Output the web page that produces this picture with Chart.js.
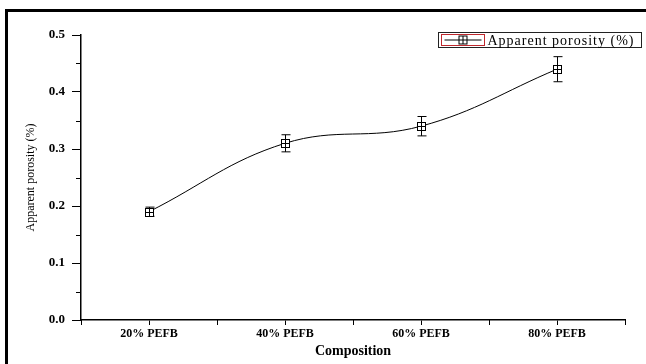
<!DOCTYPE html>
<html>
<head>
<meta charset="utf-8">
<script src="https://cdn.jsdelivr.net/npm/chart.js@4.4.0/dist/chart.umd.min.js"></script>
<style>
    html, body { margin: 0; padding: 0; background: #fff; }
    #wrap { position: relative; width: 646px; height: 364px; }
</style>
</head>
<body>
<div id="wrap"><canvas id="grafico-porosidad" width="646" height="364"></canvas></div>
<script>
// Chart data
const labels = ['20% PEFB', '40% PEFB', '60% PEFB', '80% PEFB'];
const porosity = [0.19, 0.31, 0.34, 0.44];
const porosityError = [0.008, 0.015, 0.017, 0.022];
const yTicks = [0, 0.1, 0.2, 0.3, 0.4, 0.5];
const yMinorTicks = [0.05, 0.15, 0.25, 0.35, 0.45];

const serif = '"Liberation Serif", "DejaVu Serif", serif';

// square with a cross, like the Origin marker
function makeMarker(size) {
    var c = document.createElement('canvas');
    c.width = size; c.height = size;
    var g = c.getContext('2d');
    g.fillStyle = '#fff';
    g.fillRect(1, 1, size - 2, size - 2);
    g.strokeStyle = '#000';
    g.lineWidth = 1;
    g.strokeRect(1.5, 1.5, size - 3, size - 3);
    g.beginPath();
    g.moveTo(1.5, size / 2); g.lineTo(size - 1.5, size / 2);
    g.moveTo(size / 2, 1.5); g.lineTo(size / 2, size - 1.5);
    g.stroke();
    return c;
}
var marker = makeMarker(11);

// white page, black frame top + left
const framePlugin = {
    id: 'frame',
    beforeDraw(chart) {
        var ctx = chart.ctx;
        ctx.save();
        ctx.fillStyle = '#fff';
        ctx.fillRect(0, 0, chart.width, chart.height);
        ctx.fillStyle = '#000';
        ctx.fillRect(5, 9, chart.width - 5, 3);
        ctx.fillRect(5, 9, 3, chart.height - 9);
        ctx.restore();
    }
};

// error bars
const errorBarPlugin = {
    id: 'errorBars',
    afterDatasetsDraw(chart) {
        var ctx = chart.ctx;
        var y = chart.scales.y;
        var meta = chart.getDatasetMeta(0);
        ctx.save();
        ctx.strokeStyle = '#000';
        ctx.lineWidth = 1;
        meta.data.forEach(function(pt, i) {
            var x = Math.round(pt.x) + 0.5;
            var top = y.getPixelForValue(porosity[i] + porosityError[i]);
            var bot = y.getPixelForValue(porosity[i] - porosityError[i]);
            ctx.beginPath();
            ctx.moveTo(x, top); ctx.lineTo(x, bot);
            ctx.moveTo(x - 4, top); ctx.lineTo(x + 5, top);
            ctx.moveTo(x - 4, bot); ctx.lineTo(x + 5, bot);
            ctx.stroke();
            ctx.drawImage(marker, Math.round(pt.x) - 5, Math.round(pt.y) - 5);
        });
        ctx.restore();
    }
};

// minor ticks + category boundary ticks
const minorTickPlugin = {
    id: 'minorTicks',
    afterDraw(chart) {
        var ctx = chart.ctx;
        var xs = chart.scales.x, ys = chart.scales.y;
        var area = chart.chartArea;
        ctx.save();
        ctx.strokeStyle = '#000';
        ctx.lineWidth = 1;
        ctx.beginPath();
        yMinorTicks.forEach(function(v) {
            var py = Math.round(ys.getPixelForValue(v)) + 0.5;
            ctx.moveTo(area.left - 5, py); ctx.lineTo(area.left, py);
        });
        for (var i = 0; i <= labels.length; i++) {
            var px = Math.round(xs.getPixelForValue(i - 0.5)) + 0.5;
            ctx.moveTo(px, area.bottom); ctx.lineTo(px, area.bottom + 5);
        }
        ctx.stroke();
        ctx.restore();
    }
};

// boxed legend top right
const legendPlugin = {
    id: 'boxLegend',
    afterDraw(chart) {
        var ctx = chart.ctx;
        var bx = 438.5, by = 32.5, bw = 203, bh = 15;
        ctx.save();
        ctx.fillStyle = '#fff';
        ctx.fillRect(bx, by, bw, bh);
        ctx.strokeStyle = '#222';
        ctx.lineWidth = 1;
        ctx.strokeRect(bx, by, bw, bh);
        ctx.strokeStyle = '#c0282d';
        ctx.strokeRect(bx + 3, by + 2, 43, bh - 4);
        ctx.strokeStyle = '#000';
        ctx.beginPath();
        ctx.moveTo(bx + 6, by + 7.5); ctx.lineTo(bx + 43, by + 7.5);
        ctx.stroke();
        ctx.drawImage(marker, bx + 19, by + 2);
        ctx.fillStyle = '#000';
        ctx.font = '14px ' + serif;
        ctx.letterSpacing = '1px';
        ctx.textBaseline = 'middle';
        ctx.fillText(chart.data.datasets[0].label, bx + 49, by + bh / 2 + 1);
        ctx.restore();
    }
};

const data = {
    labels: labels,
    datasets: [{
        label: 'Apparent porosity (%)',
        data: porosity,
        borderColor: '#000',
        borderWidth: 1,
        tension: 0.4,
        pointRadius: 0,
        fill: false
    }]
};

const config = {
    type: 'line',
    data: data,
    options: {
        responsive: false,
        animation: false,
        devicePixelRatio: 1,
        layout: { padding: { left: 0, right: 21, top: 35, bottom: 0 } },
        plugins: {
            legend: { display: false },
            title: { display: false },
            tooltip: { enabled: false }
        },
        scales: {
            x: {
                type: 'category',
                offset: true,
                afterFit: function(scale) { scale.height = 44; },
                grid: { drawOnChartArea: false, offset: false, tickLength: 5, color: '#000' },
                border: { color: '#000', width: 1.5 },
                ticks: {
                    color: '#000',
                    padding: 2,
                    maxRotation: 0,
                    font: { family: serif, size: 12, weight: 'bold' }
                },
                title: {
                    display: true,
                    text: 'Composition',
                    color: '#000',
                    padding: { top: 0, bottom: 4 },
                    font: { family: serif, size: 14, weight: 'bold' }
                }
            },
            y: {
                min: 0,
                max: 0.5,
                afterFit: function(scale) { scale.width = 81; },
                afterBuildTicks: function(scale) {
                    scale.ticks = yTicks.map(function(v) { return { value: v }; });
                },
                grid: { drawOnChartArea: false, tickLength: 9, color: '#000' },
                border: { color: '#000', width: 1.5 },
                ticks: {
                    color: '#000',
                    padding: 7,
                    callback: function(v) { return Number(v).toFixed(1); },
                    font: { family: serif, size: 13, weight: 'bold' }
                },
                title: {
                    display: true,
                    text: 'Apparent porosity (%)',
                    color: '#000',
                    padding: { top: 24, bottom: 0 },
                    font: { family: serif, size: 12 }
                }
            }
        }
    },
    plugins: [framePlugin, errorBarPlugin, minorTickPlugin, legendPlugin]
};

var myChart = new Chart(document.getElementById('grafico-porosidad'), config);
</script>
</body>
</html>
